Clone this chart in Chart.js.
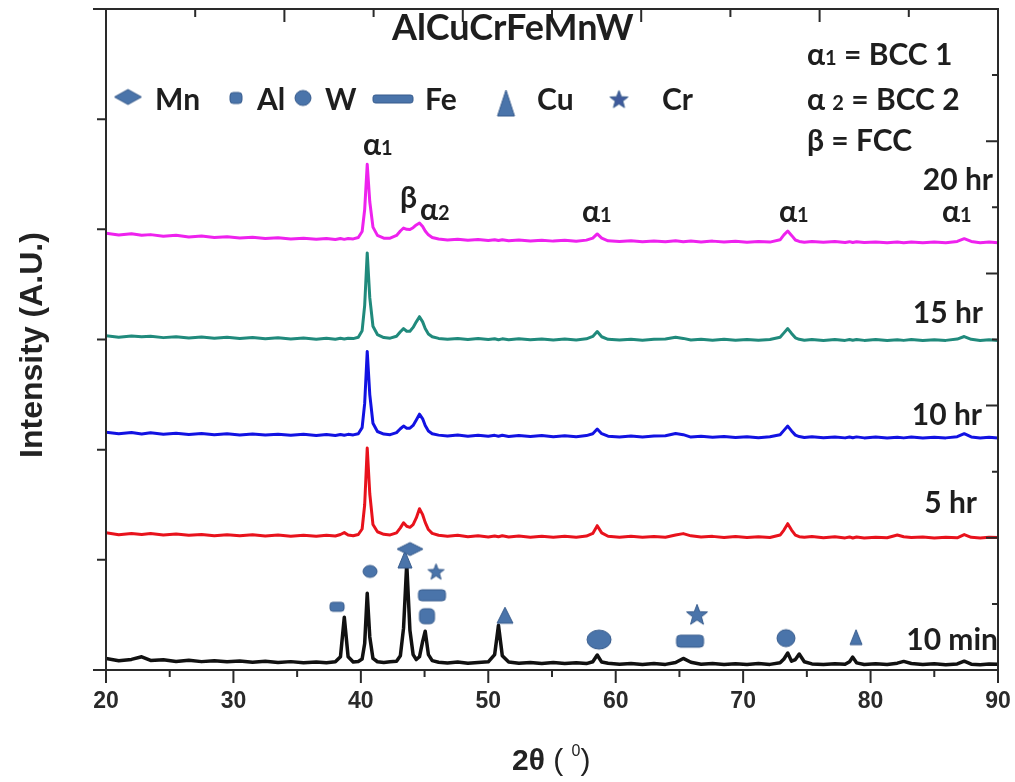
<!DOCTYPE html>
<html>
<head>
<meta charset="utf-8">
<title>AlCuCrFeMnW XRD</title>
<script src="https://cdn.jsdelivr.net/npm/chart.js"></script>
<style>
  html, body { margin: 0; padding: 0; background: #fff; }
</style>
</head>
<body>
<canvas id="xrd" width="1015" height="782"></canvas>
<script>
// 2-theta grid (degrees) shared by all patterns
const theta = [
  20, 21, 22, 22.8, 23.5, 24.5, 25.5, 26.5, 27.5, 28.5,
  29.5, 30.5, 31.5, 32.5, 33.5, 34.5, 35.5, 36.5, 37.3, 38.0,
  38.4, 38.7, 39.0, 39.4, 39.8, 40.1, 40.3, 40.5, 40.7, 40.95,
  41.3, 41.8, 42.3, 42.8, 43.1, 43.35, 43.6, 43.85, 44.1, 44.35,
  44.6, 44.85, 45.05, 45.3, 45.6, 46.1, 46.8, 47.6, 48.4, 49.2,
  50.0, 50.5, 50.8, 51.1, 51.6, 52.4, 53.3, 54.2, 55.1, 56.0,
  56.9, 57.7, 58.2, 58.55, 58.9, 59.4, 60.3, 61.2, 62.1, 63.0,
  63.9, 64.7, 65.3, 65.9, 66.7, 67.6, 68.5, 69.4, 70.3, 71.2,
  72.1, 72.9, 73.2, 73.5, 73.8, 74.1, 74.4, 74.8, 75.4, 76.3,
  77.2, 78.0, 78.35, 78.6, 78.9, 79.5, 80.4, 81.3, 82.1, 82.6,
  83.2, 84.1, 85.0, 85.9, 86.8, 87.35, 87.9, 88.6, 89.3, 90.0
];

// stacked intensities (a.u., offset per milling time)
const min10 = [
  10.5, 8.4, 9.6, 12.0, 8.7, 9.3, 7.8, 8.9, 7.6, 8.5,
  7.4, 8.2, 7.1, 7.9, 6.8, 7.6, 6.6, 7.3, 6.5, 7.4,
  12, 47.9, 12, 7.2, 7.8, 10, 24, 69.6, 30, 10.5,
  7.5, 6.8, 7.4, 8.0, 13, 38, 96.7, 36, 14, 9.5,
  12, 26, 35.2, 14, 8.5, 7.0, 6.4, 7.2, 6.1, 6.9,
  7.4, 14, 40.7, 13, 7.3, 6.2, 6.9, 5.9, 6.7, 6.0,
  6.6, 5.8, 7.5, 13.6, 7.2, 6.1, 5.2, 6.0, 5.0, 5.8,
  5.1, 6.8, 10.5, 7.0, 5.3, 5.9, 4.9, 5.7, 5.0, 5.8,
  5.1, 6.5, 10, 15.4, 8.0, 9.5, 14.5, 7.5, 5.5, 5.0,
  5.7, 5.2, 7.5, 11.7, 6.5, 5.0, 5.6, 4.9, 6.2, 7.8,
  5.9, 5.0, 5.6, 4.8, 5.5, 8.0, 5.3, 4.8, 5.5, 5.2
];
const hr5 = [
  124.5, 122.8, 124.0, 123.0, 123.9, 122.5, 123.4, 122.3, 123.1, 121.9,
  122.8, 121.8, 122.7, 121.6, 122.5, 121.5, 122.4, 121.4, 122.3, 121.6,
  123.0, 124.7, 122.5, 121.8, 123.0, 128, 150, 201.5, 160, 132,
  125.5, 123.2, 122.6, 124.5, 129, 133.7, 130.5, 129.5, 132, 138,
  146.4, 141, 134, 127.5, 124, 122.3, 121.5, 122.3, 121.0, 121.9,
  120.8, 121.7, 120.9, 121.8, 120.7, 121.6, 120.6, 121.5, 120.5, 121.4,
  120.6, 121.6, 124, 131.0, 124.5, 121.4, 120.5, 121.3, 120.4, 121.2,
  120.5, 122.6, 123.8, 121.8, 120.7, 121.3, 120.2, 121.1, 120.3, 121.0,
  120.2, 122.5, 127, 132.8, 127, 122.5, 121.0, 120.6, 121.2, 120.0,
  120.9, 119.9, 120.8, 119.8, 120.7, 119.9, 120.6, 120.0, 122.5, 121.0,
  120.2, 120.8, 119.8, 120.5, 120.0, 122.9, 120.4, 119.9, 120.6, 120.2
];
const hr10 = [
  215.8, 214.4, 215.5, 214.2, 215.3, 214.0, 214.9, 213.8, 214.6, 213.6,
  214.5, 213.4, 214.3, 213.3, 214.0, 213.0, 213.9, 212.9, 213.7, 212.9,
  213.8, 213.1, 213.9, 213.4, 214.5, 220, 242, 289.2, 250, 224,
  216.5, 214.2, 213.6, 215.5, 219, 221.4, 219.5, 219.5, 222, 227,
  232.2, 228, 222, 217, 214.5, 213.2, 212.4, 213.3, 212.2, 213.1,
  212.1, 213.0, 212.2, 213.1, 212.0, 212.9, 211.9, 212.8, 211.8, 212.6,
  211.7, 212.8, 214.5, 218.7, 214.5, 212.2, 211.6, 212.4, 211.5, 212.3,
  212.6, 214.6, 213.6, 211.4, 212.1, 211.2, 211.9, 211.0, 211.8, 210.9,
  211.7, 213.5, 217.5, 221.4, 217, 213.2, 211.9, 211.0, 211.7, 210.8,
  211.6, 210.7, 211.5, 210.8, 211.6, 210.7, 211.4, 210.6, 211.3, 210.7,
  211.4, 210.6, 211.3, 210.7, 211.8, 214.5, 211.6, 210.6, 211.2, 210.5
];
const hr15 = [
  303.4, 302.0, 303.2, 302.4, 303.0, 301.7, 302.6, 301.4, 302.2, 301.1,
  302.0, 300.9, 301.8, 300.7, 301.5, 300.4, 301.3, 300.3, 301.2, 300.3,
  301.1, 300.5, 301.2, 300.8, 302.0, 308, 331, 378.6, 338, 312,
  304.5, 301.8, 301.2, 303.0, 307, 309.9, 307.5, 307.5, 311, 316,
  320.7, 316, 310, 305, 302.5, 301.0, 300.2, 301.0, 300.0, 300.9,
  299.9, 300.7, 299.8, 300.6, 299.7, 300.6, 299.7, 300.5, 299.6, 300.4,
  299.6, 300.6, 302.8, 307.2, 302.5, 300.2, 299.5, 300.3, 299.4, 300.2,
  300.5, 302.0, 301.0, 299.6, 300.3, 299.4, 300.2, 299.3, 300.1, 299.3,
  300.0, 302.0, 306, 309.9, 305.5, 301.5, 300.2, 299.4, 300.1, 299.2,
  300.0, 299.2, 300.0, 299.3, 300.0, 299.2, 299.9, 299.2, 299.8, 299.2,
  299.9, 299.1, 299.8, 299.2, 300.4, 302.7, 300.2, 299.1, 299.7, 299.0
];
const hr20 = [
  396.5, 394.8, 396.0, 394.6, 395.2, 393.8, 394.6, 393.1, 393.9, 392.6,
  393.3, 392.1, 392.8, 391.6, 392.3, 391.2, 391.9, 390.9, 391.7, 390.8,
  391.6, 390.9, 391.6, 391.3, 392.6, 398, 418, 459.0, 425, 402,
  394.5, 392.0, 392.0, 394.5, 398.5, 401.2, 400.0, 399.8, 401.5, 404,
  405.7, 402.5, 398.5, 395, 392.6, 391.2, 390.4, 391.0, 390.1, 390.8,
  389.9, 390.6, 389.8, 390.5, 389.6, 390.3, 389.4, 390.1, 389.3, 390.0,
  389.2, 390.2, 392.0, 395.8, 392.0, 389.6, 389.0, 389.7, 388.8, 389.5,
  388.7, 389.6, 388.8, 389.4, 388.6, 389.3, 388.4, 389.1, 388.3, 389.0,
  388.4, 390.5, 395, 398.5, 394.5, 390.3, 389.0, 388.3, 389.0, 388.2,
  388.9, 388.1, 388.8, 388.0, 388.7, 388.0, 388.6, 387.9, 388.6, 387.9,
  388.5, 387.8, 388.4, 387.8, 389.0, 391.5, 389.0, 387.9, 388.4, 387.8
];

// phase markers on the 10 min pattern: [2theta], [height]
const mnX = [43.86],              mnY = [109.8];
const alX = [38.13, 45.19],       alY = [57.4, 48.8];
const wX  = [40.72, 58.69, 73.36], wY = [89.5, 27.6, 28.9];
const feX = [45.58, 65.83],       feY = [67.8, 26.2];
const cuX = [43.46, 51.31, 78.86], cuY = [100.3, 49.7, 29.8];
const crX = [45.90, 66.38],       crY = [89.5, 50.6];

// axis ticks
const xTicks = [20, 25, 30, 35, 40, 45, 50, 55, 60, 65, 70, 75, 80, 85, 90];
const yTicks = [100, 200, 300, 400, 500];
const frameTicks = [1, 2, 3, 4, 5, 6, 7, 8, 9];

const MARK_FILL = '#4a74aa';
const MARK_EDGE = '#375b8c';
const TXT = '#1e1e1e';
const LBL = 'Lato, "Noto Sans", sans-serif';
const ARIAL = '"Liberation Sans", Arial, sans-serif';

function makeMarker(shape, w, h, fill) {
  const pad = 2;
  const c = document.createElement('canvas');
  c.width = w + pad * 2; c.height = h + pad * 2;
  const g = c.getContext('2d');
  g.translate(pad, pad);
  g.fillStyle = fill || MARK_FILL;
  g.strokeStyle = MARK_EDGE;
  g.lineWidth = 1;
  g.beginPath();
  if (shape === 'diamond') {
    g.moveTo(w / 2, 0); g.lineTo(w, h / 2); g.lineTo(w / 2, h); g.lineTo(0, h / 2); g.closePath();
  } else if (shape === 'circle') {
    g.ellipse(w / 2, h / 2, w / 2, h / 2, 0, 0, Math.PI * 2);
  } else if (shape === 'rect' || shape === 'bar') {
    g.roundRect(0, 0, w, h, Math.min(w, h) * 0.3);
  } else if (shape === 'tri') {
    g.moveTo(w / 2, 0); g.lineTo(w, h); g.lineTo(0, h); g.closePath();
  } else if (shape === 'star') {
    const cx = w / 2, cy = h / 2 + h * 0.05, R = Math.min(w, h) / 2, r = R * 0.42;
    for (let i = 0; i < 10; i++) {
      const rad = (i % 2 === 0) ? R : r;
      const ang = -Math.PI / 2 + i * Math.PI / 5;
      const px = cx + rad * Math.cos(ang), py = cy + rad * Math.sin(ang);
      if (i === 0) g.moveTo(px, py); else g.lineTo(px, py);
    }
    g.closePath();
  }
  g.fill(); g.stroke();
  return c;
}

function pts(xs, ys) { return xs.map((x, i) => ({ x: x, y: ys[i] })); }
function line(label, ys, color, width) {
  return {
    label: label, type: 'scatter', showLine: true, order: 2,
    data: pts(theta, ys), borderColor: color, backgroundColor: color,
    borderWidth: width, pointRadius: 0, tension: 0, borderJoinStyle: 'round'
  };
}
function marks(label, xs, ys, shape, sizes) {
  return {
    label: label, type: 'scatter', order: 0, data: pts(xs, ys),
    pointStyle: sizes.map(s => makeMarker(shape, s[0], s[1])),
    pointRadius: 8
  };
}

function rich(ctx, parts, x, y, align) {
  let w = 0;
  parts.forEach(p => { ctx.font = p[1]; w += ctx.measureText(p[0]).width; });
  let cx = align === 'right' ? x - w : x;
  parts.forEach(p => {
    ctx.font = p[1];
    ctx.fillText(p[0], cx, y + (p[2] || 0));
    cx += ctx.measureText(p[0]).width;
  });
}

const big = 'bold 30px ' + LBL;
const sub = 'bold 20px ' + LBL;

const legendItems = [
  ['diamond', 128, 97, 27, 15, 'Mn', 155],
  ['rect', 236, 98, 12, 11, 'Al', 257],
  ['circle', 303, 98, 16, 15, 'W', 325],
  ['bar', 393, 99, 40, 8, 'Fe', 425],
  ['tri', 506, 103, 17, 26, 'Cu', 537],
  ['star', 619, 99, 19, 19, 'Cr', 662]
];

const decor = {
  id: 'decor',
  afterDraw(chart) {
    const { ctx, chartArea: a, scales } = chart;
    const sx = scales.x, sy = scales.y, tx = scales.x2, ry = scales.y2;
    ctx.save();
    ctx.strokeStyle = '#2a2a2a';
    ctx.lineWidth = 2;
    ctx.beginPath();
    ctx.moveTo(93, a.top); ctx.lineTo(a.right + 1, a.top);
    ctx.moveTo(93, a.bottom); ctx.lineTo(a.right + 1, a.bottom);
    ctx.moveTo(a.left, a.top); ctx.lineTo(a.left, a.bottom);
    ctx.moveTo(a.right, a.top); ctx.lineTo(a.right, a.bottom);
    xTicks.forEach(v => {
      const px = sx.getPixelForValue(v);
      ctx.moveTo(px, a.bottom); ctx.lineTo(px, a.bottom + (v % 10 === 0 ? 13 : 7));
    });
    yTicks.forEach(v => {
      const py = sy.getPixelForValue(v);
      ctx.moveTo(a.left - 9, py); ctx.lineTo(a.left, py);
    });
    frameTicks.forEach(v => {
      const px = tx.getPixelForValue(v);
      ctx.moveTo(px, a.top); ctx.lineTo(px, a.top + (v % 2 === 0 ? 13 : 8));
      const py = ry.getPixelForValue(v);
      ctx.moveTo(a.right, py); ctx.lineTo(a.right - (v % 2 === 0 ? 12 : 6), py);
    });
    ctx.stroke();

    ctx.fillStyle = TXT;
    ctx.textAlign = 'left';
    ctx.textBaseline = 'alphabetic';

    // title
    ctx.font = 'bold 36px ' + LBL;
    ctx.fillText('AlCuCrFeMnW', 392, 40);

    // legend
    legendItems.forEach(it => {
      const img = makeMarker(it[0], it[3], it[4], it[0] === 'star' ? '#3f5a9c' : MARK_FILL);
      ctx.drawImage(img, it[1] - img.width / 2, it[2] - img.height / 2);
      ctx.font = big;
      ctx.fillText(it[5], it[6], 110);
    });

    // phase key
    rich(ctx, [['α', big], ['1', sub], [' = BCC 1', big]], 807, 65);
    rich(ctx, [['α ', big], ['2', sub], [' = BCC 2', big]], 807, 110);
    rich(ctx, [['β = FCC', big]], 807, 151);

    // pattern labels
    rich(ctx, [['20 hr', big]], 993, 190, 'right');
    rich(ctx, [['15 hr', big]], 983, 323, 'right');
    rich(ctx, [['10 hr', big]], 982, 425, 'right');
    rich(ctx, [['5 hr', big]], 977, 513, 'right');
    rich(ctx, [['10 min', big]], 998, 650, 'right');

    // peak labels
    rich(ctx, [['α', big], ['1', sub]], 363, 155);
    rich(ctx, [['β', big]], 400, 208);
    rich(ctx, [['α', big], ['2', sub]], 420, 220);
    rich(ctx, [['α', big], ['1', sub]], 582, 222);
    rich(ctx, [['α', big], ['1', sub]], 779, 222);
    rich(ctx, [['α', big], ['1', sub]], 942, 222);

    // axis titles
    ctx.fillStyle = '#222';
    rich(ctx, [['2θ', 'bold 30px ' + ARIAL],
               [' ( ', '30px ' + ARIAL],
               ['0', '16px ' + ARIAL, -14],
               [')', '30px ' + ARIAL]], 512, 770);
    ctx.translate(31, 345);
    ctx.rotate(-Math.PI / 2);
    ctx.textAlign = 'center';
    ctx.font = 'bold 32px ' + ARIAL;
    ctx.fillText('Intensity (A.U.)', 0, 11);
    ctx.restore();
  }
};

new Chart(document.getElementById('xrd'), {
  type: 'scatter',
  data: {
    datasets: [
      marks('Mn', mnX, mnY, 'diamond', [[26, 13]]),
      marks('Cr', crX, crY, 'star', [[17, 18], [22, 22]]),
      marks('Fe', feX, feY, 'bar', [[27, 11], [27, 12]]),
      marks('Al', alX, alY, 'rect', [[14, 9], [15, 15]]),
      marks('W', wX, wY, 'circle', [[14, 12], [24, 19], [18, 17]]),
      marks('Cu', cuX, cuY, 'tri', [[14, 17], [16, 16], [12, 15]]),
      line('10 min', min10, '#111111', 3.5),
      line('5 hr', hr5, '#e8121c', 3),
      line('10 hr', hr10, '#1212e2', 3),
      line('15 hr', hr15, '#208a7c', 3),
      line('20 hr', hr20, '#ee22ee', 3)
    ]
  },
  options: {
    responsive: false,
    animation: false,
    events: [],
    layout: { padding: 0 },
    plugins: { legend: { display: false }, tooltip: { enabled: false } },
    scales: {
      x: {
        type: 'linear', position: 'bottom', min: 20, max: 90,
        ticks: {
          stepSize: 10, color: '#2a2a2a', padding: 18,
          font: { family: ARIAL, size: 23, weight: 'bold' }
        },
        grid: { display: false, drawTicks: false },
        border: { display: false },
        afterFit: s => { s.height = 112; s.paddingLeft = 0; s.paddingRight = 0; }
      },
      y: {
        type: 'linear', position: 'left', min: 0, max: 600,
        ticks: { display: false },
        grid: { display: false, drawTicks: false },
        border: { display: false },
        afterFit: s => { s.width = 106; }
      },
      x2: {
        type: 'linear', position: 'top', min: 0, max: 10,
        ticks: { display: false },
        grid: { display: false, drawTicks: false },
        border: { display: false },
        afterFit: s => { s.height = 6; }
      },
      y2: {
        type: 'linear', position: 'right', min: 0, max: 10,
        ticks: { display: false },
        grid: { display: false, drawTicks: false },
        border: { display: false },
        afterFit: s => { s.width = 17; }
      }
    }
  },
  plugins: [decor]
});
</script>
</body>
</html>
